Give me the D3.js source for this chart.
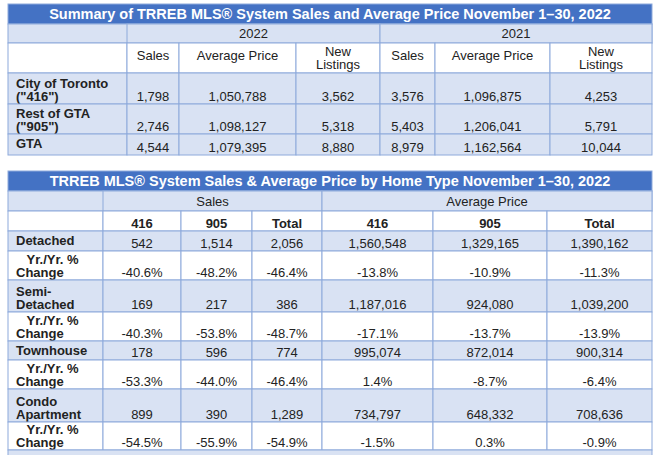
<!DOCTYPE html>
<html><head><meta charset="utf-8">
<script src="https://cdn.jsdelivr.net/npm/d3@7"></script>
<style>body{margin:0;background:#fff}text{font-family:"Liberation Sans",Arial,sans-serif}</style>
</head><body><svg id="chart" width="660" height="455"></svg>
<script>
// ---- data ----
var title1 = "Summary of TRREB MLS® System Sales and Average Price November 1–30, 2022";
var years = ["2022", "2021"];
var topCols = ["Sales", "Average Price", "New\nListings", "Sales", "Average Price", "New\nListings"];
var topRows = ["City of Toronto\n(\"416\")", "Rest of GTA\n(\"905\")", "GTA"];
var topVals = [
  ["1,798", "1,050,788", "3,562", "3,576", "1,096,875", "4,253"],
  ["2,746", "1,098,127", "5,318", "5,403", "1,206,041", "5,791"],
  ["4,544", "1,079,395", "8,880", "8,979", "1,162,564", "10,044"]
];
var title2 = "TRREB MLS® System Sales & Average Price by Home Type November 1–30, 2022";
var groups = ["Sales", "Average Price"];
var botCols = ["416", "905", "Total", "416", "905", "Total"];
var botRows = ["Detached", "   Yr./Yr. %\nChange", "Semi-\nDetached", "   Yr./Yr. %\nChange", "Townhouse",
               "   Yr./Yr. %\nChange", "Condo\nApartment", "   Yr./Yr. %\nChange"];
var botVals = [
  ["542", "1,514", "2,056", "1,560,548", "1,329,165", "1,390,162"],
  ["-40.6%", "-48.2%", "-46.4%", "-13.8%", "-10.9%", "-11.3%"],
  ["169", "217", "386", "1,187,016", "924,080", "1,039,200"],
  ["-40.3%", "-53.8%", "-48.7%", "-17.1%", "-13.7%", "-13.9%"],
  ["178", "596", "774", "995,074", "872,014", "900,314"],
  ["-53.3%", "-44.0%", "-46.4%", "1.4%", "-8.7%", "-6.4%"],
  ["899", "390", "1,289", "734,797", "648,332", "708,636"],
  ["-54.5%", "-55.9%", "-54.9%", "-1.5%", "0.3%", "-0.9%"]
];

var svg = d3.select("#chart");
var DARK = "#4472c4", LIGHT = "#d9e2f3", LINE = "#8eaadb";

function cell(x0, x1, y0, y1, fill) {
  svg.append("rect").attr("x", x0).attr("y", y0).attr("width", x1 - x0).attr("height", y1 - y0)
    .attr("fill", fill).attr("stroke", LINE).attr("stroke-width", 1);
}
function txt(s, x, yBottom, anchor, opts) {
  opts = opts || {};
  var lines = s.split("\n");
  var t = svg.append("text").attr("text-anchor", anchor).attr("font-size", opts.size || 13)
    .attr("font-weight", opts.bold ? "bold" : "normal").attr("fill", opts.fill || "#222")
    .attr("xml:space", "preserve");
  lines.forEach(function (l, i) {
    t.append("tspan").attr("x", x).attr("y", yBottom - (lines.length - 1 - i) * 13.5).text(l);
  });
}

function table(cfg) {
  var xs = cfg.xs, L = xs[0], R = xs[xs.length - 1], y = cfg.y;
  cell(L, R, y[0], y[1], DARK);
  txt(cfg.title, (L + R) / 2, y[1] - 5, "middle", { bold: true, size: 14.5, fill: "#fff" });
  // group row
  cell(L, R, y[1], y[2], LIGHT);
  cfg.groups.forEach(function (g, i) {
    cell(xs[1 + i * 3], xs[4 + i * 3], y[1], y[2], LIGHT);
    txt(g, (xs[1 + i * 3] + xs[4 + i * 3]) / 2, y[2] - 5, "middle");
  });
  // column header row
  cell(L, xs[1], y[2], y[3], "#fff");
  cfg.cols.forEach(function (c, i) {
    cell(xs[i + 1], xs[i + 2], y[2], y[3], "#fff");
    txt(c, (xs[i + 1] + xs[i + 2]) / 2, c.indexOf("\n") >= 0 ? y[3] - 4 : y[2] + 17, "middle", { bold: cfg.boldCols });
  });
  cfg.rows.forEach(function (r, j) {
    var y0 = y[4 + j - 1], y1 = y[4 + j];
    var fill = cfg.fills(j);
    cell(L, xs[1], y0, y1, fill);
    txt(r, L + 8, r.indexOf("\n") >= 0 ? y1 - 3 : y0 + 14, "start", { bold: true });
    cfg.vals[j].forEach(function (v, i) {
      cell(xs[i + 1], xs[i + 2], y0, y1, fill);
      txt(v, (xs[i + 1] + xs[i + 2]) / 2, y1 - 3, "middle");
    });
  });
}

table({
  title: title1, groups: years, cols: topCols, rows: topRows, vals: topVals,
  xs: [8, 127, 179, 296, 380, 435, 550, 652],
  y: [4, 24, 43, 73, 104, 134, 155],
  fills: function () { return LIGHT; }, boldCols: false
});
table({
  title: title2, groups: groups, cols: botCols, rows: botRows, vals: botVals,
  xs: [8, 103, 181, 252, 322, 433, 547, 652],
  y: [171, 191, 211, 231, 251, 280, 312, 341, 360, 389, 422, 450],
  fills: function (j) { return j % 2 ? "#fff" : LIGHT; }, boldCols: true
});
cell(8, 652, 450, 462, LIGHT);
</script></body></html>
